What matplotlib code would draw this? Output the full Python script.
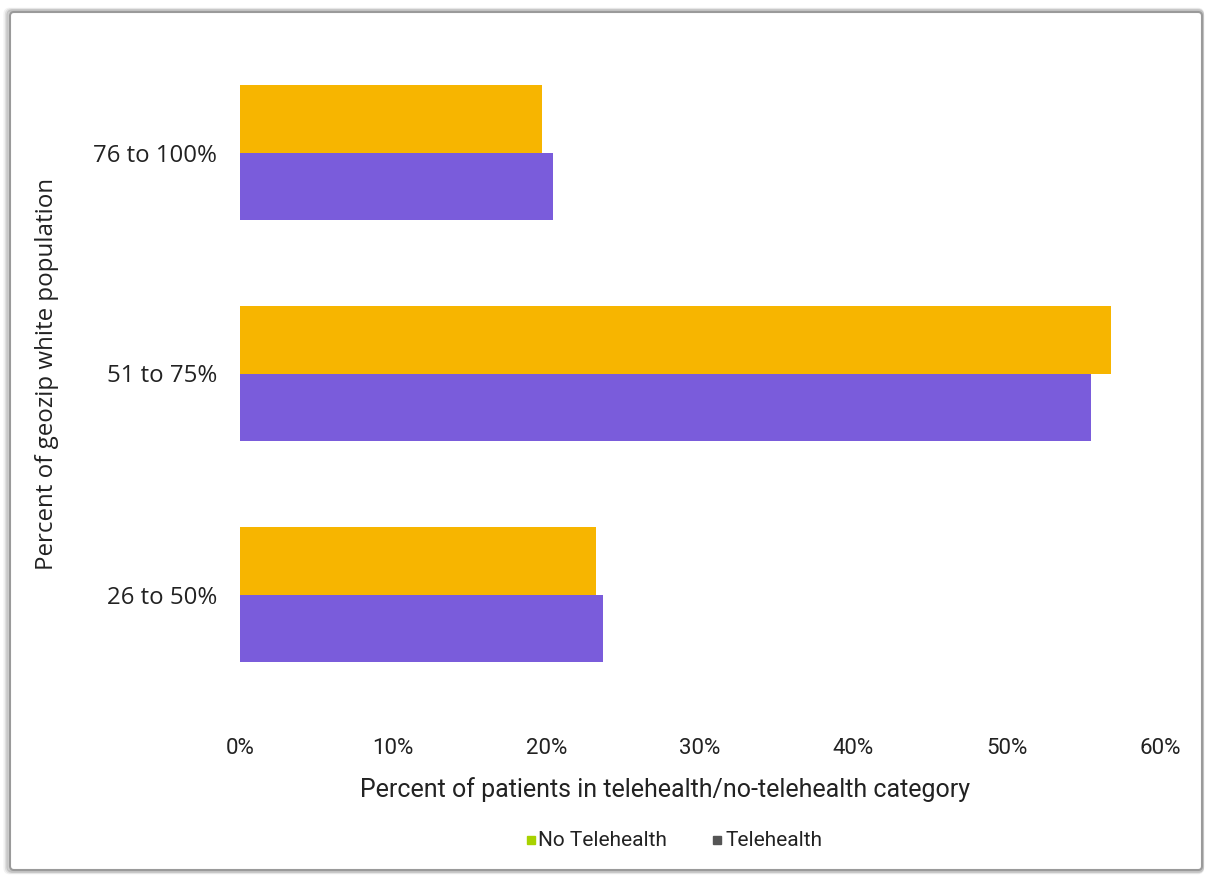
import numpy as np
import matplotlib.pyplot as plt
from matplotlib.patches import FancyBboxPatch, Rectangle
from matplotlib.ticker import FuncFormatter

# === Data ===
categories = ["26 to 50%", "51 to 75%", "76 to 100%"]
no_telehealth = [23.2, 56.8, 19.7]
telehealth = [23.7, 55.5, 20.4]
x_ticks = [0, 10, 20, 30, 40, 50, 60]

yellow = "#F7B500"
purple = "#7A5CDB"

plt.rcParams['font.family'] = ['Roboto', 'DejaVu Sans']

W, H = 1206, 875
fig = plt.figure(figsize=(W / 100, H / 100), dpi=100)

# card border with a soft shadow
for i, a in enumerate([0.05, 0.08, 0.12]):
    off = (3 - i) * 1.5
    fig.patches.append(FancyBboxPatch((10 - off, 5 - off / 2), W - 14 + off, H - 17 + off,
                                      boxstyle="round,pad=0,rounding_size=4",
                                      transform=None, facecolor="none",
                                      edgecolor=(0, 0, 0, a), linewidth=3, zorder=-2))
fig.patches.append(FancyBboxPatch((10, 5), W - 14, H - 17,
                                  boxstyle="round,pad=0,rounding_size=4",
                                  transform=None, facecolor="white",
                                  edgecolor="#9a9a9a", linewidth=1.5, zorder=-1))

ax = fig.add_axes([240 / W, 1 - 705 / H, (1160 - 240) / W, (705 - 42) / H])
ax.set_zorder(3)
ax.set_facecolor("none")

y = np.arange(len(categories))
h = 0.307
ax.barh(y + h / 2, no_telehealth, height=h, color=yellow, label="No Telehealth")
ax.barh(y - h / 2, telehealth, height=h, color=purple, label="Telehealth")

ax.set_xlim(0, 60)
ax.set_ylim(-0.5, 2.5)
ax.set_xticks(x_ticks)
ax.xaxis.set_major_formatter(FuncFormatter(lambda v, p: f"{v:.0f}%"))
ax.set_yticks(y)
ax.set_yticklabels(categories, family=['Open Sans', 'DejaVu Sans'])
for s in ax.spines.values():
    s.set_visible(False)
ax.tick_params(axis="both", length=0, labelsize=16, colors="#222222")
ax.tick_params(axis="y", labelsize=17.3, pad=16.5)
ax.tick_params(axis="x", pad=24)

fig.text(665 / W, 1 - 790 / H, "Percent of patients in telehealth/no-telehealth category",
         ha="center", va="center", fontsize=18, color="#222222")
fig.text(47 / W, 1 - 374 / H, "Percent of geozip white population", rotation=90,
         ha="center", va="center", fontsize=17.4, color="#222222",
         family=['Open Sans', 'DejaVu Sans'])

# legend (marker colours as in the original)
leg_y = 1 - 840 / H
fig.patches.append(Rectangle((527 / W, leg_y - 4 / H), 8 / W, 8 / H,
                             transform=fig.transFigure, color="#A8D200"))
fig.text(538 / W, leg_y, "No Telehealth", ha="left", va="center", fontsize=15, color="#222222")
fig.patches.append(Rectangle((713 / W, leg_y - 4 / H), 8 / W, 8 / H,
                             transform=fig.transFigure, color="#555555"))
fig.text(725 / W, leg_y, "Telehealth", ha="left", va="center", fontsize=15, color="#222222")

fig.savefig("out.png", dpi=100)
